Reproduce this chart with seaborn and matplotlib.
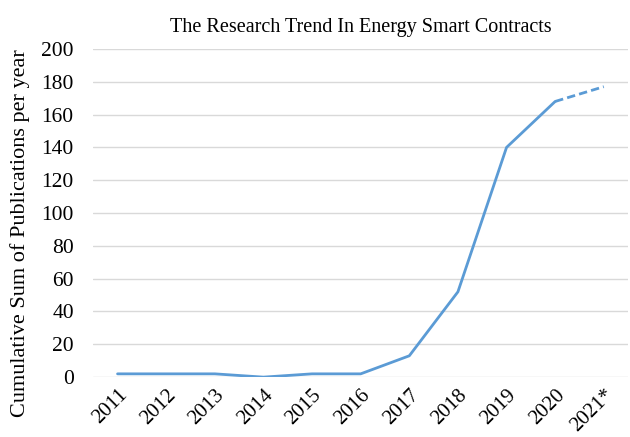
import pandas as pd
import matplotlib.pyplot as plt
import seaborn as sns

years = ['2011', '2012', '2013', '2014', '2015', '2016', '2017', '2018', '2019', '2020', '2021*']
pubs = [2, 2, 2, 0, 2, 2, 13, 52, 140, 168, 177]

df = pd.DataFrame({'year': years, 'pubs': pubs})
df['pos'] = range(len(df))

sns.set_style('white')
plt.rcParams['font.family'] = ['Liberation Serif', 'DejaVu Serif']
plt.rcParams['text.color'] = 'black'
plt.rcParams['xtick.color'] = 'black'
plt.rcParams['ytick.color'] = 'black'
plt.rcParams['axes.labelcolor'] = 'black'

fig = plt.figure(figsize=(6.3, 4.37), dpi=100)
ax = fig.add_axes([0.148, 0.137, 0.849, 0.751])

color = '#5B9BD5'
solid = df.iloc[:10]
dashed = df.iloc[9:]
sns.lineplot(data=solid, x='pos', y='pubs', ax=ax, color=color, linewidth=2)
sns.lineplot(data=dashed, x='pos', y='pubs', ax=ax, color=color, linewidth=2, linestyle=(0, (3, 1.5)))

ax.set_xlim(-0.5, len(years) - 0.5)
ax.set_ylim(0, 200)
ax.set_yticks(range(0, 201, 20))
ax.set_xticks(df['pos'])
ax.set_xticklabels(years, rotation=45, ha='right', rotation_mode='anchor')
ax.tick_params(axis='both', labelsize=15.5, length=0)
ax.tick_params(axis='y', pad=14)
ax.tick_params(axis='x', labelsize=15, pad=6)
ax.yaxis.grid(True, color='#D9D9D9', linewidth=1)
ax.set_axisbelow(True)
for s in ax.spines.values():
    s.set_visible(False)

ax.set_xlabel('')
ax.set_ylabel('Cumulative Sum of Publications per year', fontsize=16)
ax.yaxis.set_label_coords(-0.118, 0.44)
ax.set_title('The Research Trend In Energy Smart Contracts', fontsize=14.5, pad=12)

fig.savefig('out.png', dpi=100)
